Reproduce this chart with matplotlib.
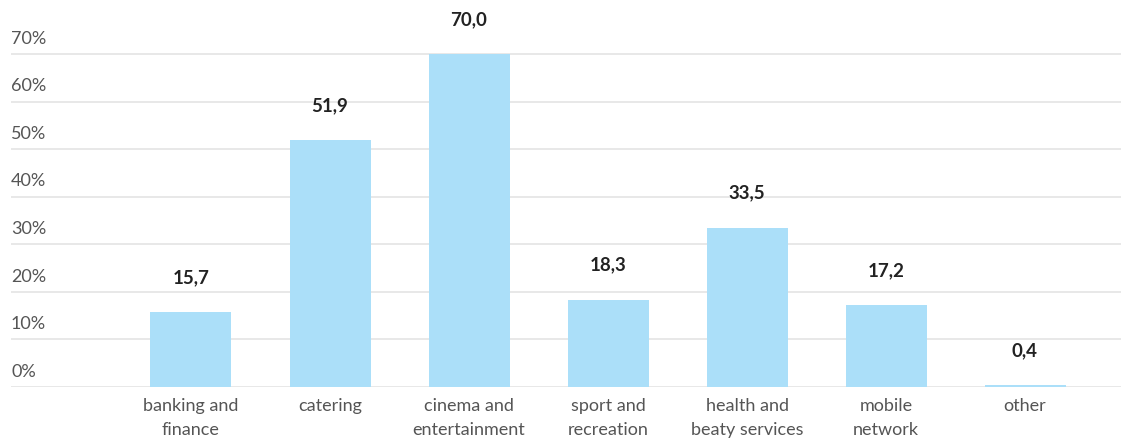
import matplotlib
matplotlib.use("Agg")
import matplotlib.pyplot as plt
from matplotlib.transforms import blended_transform_factory

categories = ["banking and\nfinance", "catering", "cinema and\nentertainment", "sport and\nrecreation",
              "health and\nbeaty services", "mobile\nnetwork", "other"]
values = [15.7, 51.9, 70.0, 18.3, 33.5, 17.2, 0.4]
value_labels = ["15,7", "51,9", "70,0", "18,3", "33,5", "17,2", "0,4"]
yticks = [0, 10, 20, 30, 40, 50, 60, 70]
ytick_labels = ["0%", "10%", "20%", "30%", "40%", "50%", "60%", "70%"]

W, H = 1121, 441
fig = plt.figure(figsize=(W / 100, H / 100), dpi=100)
left_px, right_px, bottom_px = 11, 1121, 387
ax = fig.add_axes([left_px / W, 1 - bottom_px / H, (right_px - left_px) / W, bottom_px / H])

font = "Lato"
bar_color = "#ABDFF9"
x = list(range(len(categories)))
ax.bar(x, values, width=81 / 139, color=bar_color, zorder=2)

ax.set_xlim((left_px - 191) / 139, (right_px - 191) / 139)
ax.set_ylim(0, 10 * bottom_px / 47.57)

for s in ax.spines.values():
    s.set_visible(False)
ax.set_yticks(yticks)
ax.set_yticklabels([])
ax.tick_params(axis="y", length=0)
ax.grid(axis="y", color="#e4e4e4", linewidth=1.2, zorder=0)
ax.set_xticks(x)
ax.set_xticklabels([])
ax.tick_params(axis="x", length=0)

trans = blended_transform_factory(ax.transAxes, ax.transData)
for t, lab in zip(yticks, ytick_labels):
    ax.annotate(lab, xy=(0, t), xycoords=trans, xytext=(0, 11), textcoords="offset points",
                ha="left", va="center", fontsize=13, color="#555555", family=font)

for xi, cat in zip(x, categories):
    ax.annotate(cat, xy=(xi, 0), xycoords="data", xytext=(0, -8), textcoords="offset points",
                ha="center", va="top", fontsize=13, color="#555555", family=font, linespacing=1.6)

for xi, v, lab in zip(x, values, value_labels):
    ax.annotate(lab, xy=(xi, v), xycoords="data", xytext=(0, 25), textcoords="offset points",
                ha="center", va="center", fontsize=13.5, fontweight="bold", color="#222222", family=font)

fig.savefig("out.png", dpi=100)
